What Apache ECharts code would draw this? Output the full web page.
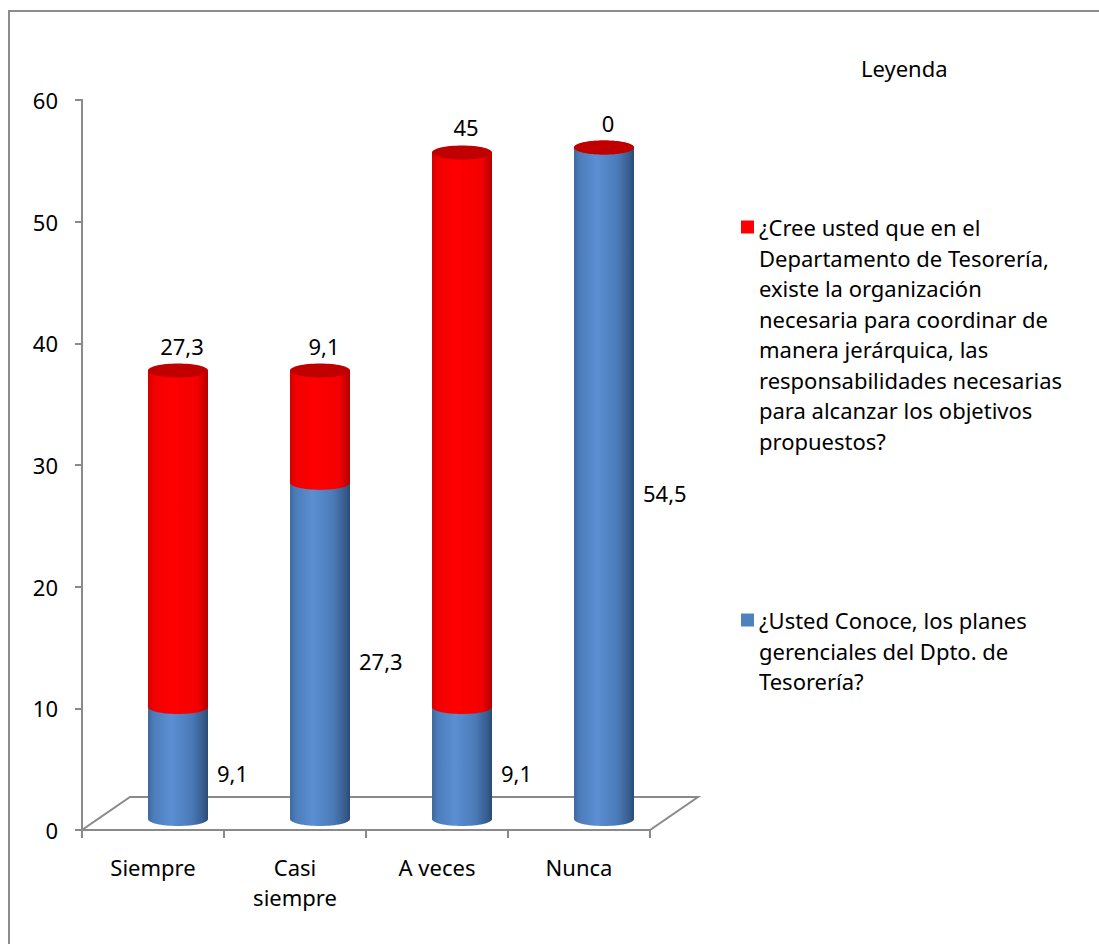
<!DOCTYPE html>
<html>
<head>
<meta charset="utf-8">
<style>
  html, body { margin: 0; padding: 0; background: #fff; }
  #chart { width: 1099px; height: 944px; }
</style>
<script src="https://cdn.jsdelivr.net/npm/echarts@6/dist/echarts.min.js"></script>
</head>
<body>
<div id="chart"></div>
<script>
// datos
var categorias = ['Siempre', 'Casi\nsiempre', 'A veces', 'Nunca']
var conoce = [9.1, 27.3, 9.1, 54.5]
var cree = [27.3, 9.1, 45, 0]
var nombreConoce = '¿Usted Conoce, los planes gerenciales del Dpto. de Tesorería?'
var nombreCree = '¿Cree usted que en el Departamento de Tesorería, existe la organización necesaria para coordinar de manera jerárquica, las responsabilidades necesarias para alcanzar los objetivos propuestos?'
var lineasConoce = ['¿Usted Conoce, los planes', 'gerenciales del Dpto. de', 'Tesorería?']
var lineasCree = ['¿Cree usted que en el', 'Departamento de Tesorería,', 'existe la organización', 'necesaria para coordinar de', 'manera jerárquica, las', 'responsabilidades necesarias', 'para alcanzar los objetivos', 'propuestos?']
var yTicks = { min: 0, max: 60, interval: 10 }

var FONT = 'Noto Sans'
var LH = 30.5
var depthX = 25
var depthY = 11
var persp = 1.0126
var barW = 60

var azul = new echarts.graphic.LinearGradient(0, 0, 1, 0, [
  { offset: 0, color: '#40699c' },
  { offset: 0.1, color: '#4c7dbb' },
  { offset: 0.38, color: '#5b8fd3' },
  { offset: 0.72, color: '#4a7bb8' },
  { offset: 0.92, color: '#375d8e' },
  { offset: 1, color: '#2b4a73' }
])
var rojo = new echarts.graphic.LinearGradient(0, 0, 1, 0, [
  { offset: 0, color: '#d40000' },
  { offset: 0.1, color: '#f20000' },
  { offset: 0.4, color: '#ff0000' },
  { offset: 0.82, color: '#f40000' },
  { offset: 1, color: '#b30000' }
])

function fmt (v) {
  return String(v).replace('.', ',')
}

// el icono queda centrado en el texto: se agregan lineas vacias arriba
// para que quede a la altura de la primera linea
function textoLeyenda (lineas) {
  var vacias = []
  for (var i = 1; i < lineas.length; i++) vacias.push('')
  return vacias.concat(lineas).join('\n')
}

function cilindro (fill, capColor, arriba) {
  return function (params, api) {
    var i = api.value(0)
    var base = api.value(1)
    var val = api.value(2)
    var p0 = api.coord([i, 0])
    var pb = api.coord([i, base])
    var pt = api.coord([i, base + val])
    var cx = p0[0] + depthX
    var x = cx - barW / 2
    var y0 = p0[1] - depthY
    var yb = y0 - (p0[1] - pb[1]) * persp
    var yt = y0 - (p0[1] - pt[1]) * persp
    var ry = 7
    var children = [
      { type: 'rect', shape: { x: x, y: yt, width: barW, height: yb - yt }, style: { fill: fill } },
      { type: 'ellipse', shape: { cx: cx, cy: yb, rx: barW / 2, ry: ry }, style: { fill: fill } }
    ]
    if (arriba) {
      children.push({ type: 'ellipse', shape: { cx: cx, cy: yt, rx: barW / 2, ry: ry }, style: { fill: capColor } })
      children.push({
        type: 'text',
        style: { x: cx + 4, y: yt - 25, text: fmt(val), fill: '#000', font: '22px "' + FONT + '"', align: 'center', verticalAlign: 'middle' }
      })
    } else {
      children.push({
        type: 'text',
        style: { x: x + barW + 9, y: (yb + yt) / 2 + 10, text: fmt(val), fill: '#000', font: '22px "' + FONT + '"', align: 'left', verticalAlign: 'middle' }
      })
    }
    return { type: 'group', children: children }
  }
}

var datosConoce = categorias.map(function (c, i) { return [i, 0, conoce[i]] })
var datosCree = categorias.map(function (c, i) { return [i, conoce[i], cree[i]] })

var myChart = echarts.init(document.getElementById('chart'), null, { renderer: 'svg' })

var option = {
  backgroundColor: '#fff',
  animation: false,
  textStyle: { fontFamily: FONT },
  graphic: [
    { type: 'rect', silent: true, shape: { x: 9, y: 11, width: 1200, height: 1000 }, style: { fill: 'none', stroke: '#8c8c8c', lineWidth: 2 } }
  ],
  title: {
    text: 'Leyenda',
    left: 856,
    top: 48,
    textStyle: { fontFamily: FONT, fontSize: 22, fontWeight: 'normal', color: '#000', lineHeight: 30 }
  },
  grid: { left: 82, top: 100, width: 568, height: 730 },
  xAxis: {
    type: 'category',
    data: categorias,
    axisLine: { lineStyle: { color: '#8a8a8a', width: 2 } },
    axisTick: { show: true, length: 8, lineStyle: { color: '#8a8a8a', width: 2 } },
    axisLabel: { color: '#000', fontSize: 22, fontFamily: FONT, margin: 22, lineHeight: 30, interval: 0 }
  },
  yAxis: {
    type: 'value',
    min: yTicks.min,
    max: yTicks.max,
    interval: yTicks.interval,
    axisLine: { show: true, lineStyle: { color: '#8a8a8a', width: 2 } },
    axisTick: { show: true, length: 7, lineStyle: { color: '#8a8a8a', width: 2 } },
    axisLabel: { color: '#000', fontSize: 22, fontFamily: FONT, margin: 24 },
    splitLine: { show: false }
  },
  legend: [
    {
      data: [nombreCree],
      left: 741,
      top: 227 - (lineasCree.length * 2 - 1) * LH / 2,
      padding: 0,
      itemWidth: 13,
      itemHeight: 13,
      icon: 'rect',
      selectedMode: false,
      formatter: function () { return textoLeyenda(lineasCree) },
      textStyle: { fontFamily: FONT, fontSize: 22, color: '#000', lineHeight: LH }
    },
    {
      data: [nombreConoce],
      left: 741,
      top: 620 - (lineasConoce.length * 2 - 1) * LH / 2,
      padding: 0,
      itemWidth: 13,
      itemHeight: 13,
      icon: 'rect',
      selectedMode: false,
      formatter: function () { return textoLeyenda(lineasConoce) },
      textStyle: { fontFamily: FONT, fontSize: 22, color: '#000', lineHeight: LH }
    }
  ],
  series: [
    {
      // piso en perspectiva
      type: 'custom',
      name: 'piso',
      silent: true,
      data: [[0, 0]],
      encode: { x: 0, y: 1 },
      renderItem: function (params, api) {
        var cs = params.coordSys
        var yb = cs.y + cs.height
        return {
          type: 'polygon',
          shape: { points: [[cs.x, yb], [cs.x + cs.width, yb], [cs.x + cs.width + 48, yb - 33], [cs.x + 48, yb - 33]] },
          style: { fill: 'none', stroke: '#8a8a8a', lineWidth: 2 }
        }
      }
    },
    {
      type: 'custom',
      name: nombreConoce,
      itemStyle: { color: '#4f81bd' },
      data: datosConoce,
      encode: { x: 0, y: 2 },
      renderItem: cilindro(azul, '#6c96cc', false)
    },
    {
      type: 'custom',
      name: nombreCree,
      itemStyle: { color: '#ff0000' },
      data: datosCree,
      encode: { x: 0, y: 2 },
      renderItem: cilindro(rojo, '#c00000', true)
    }
  ]
}

myChart.setOption(option)
</script>
</body>
</html>
